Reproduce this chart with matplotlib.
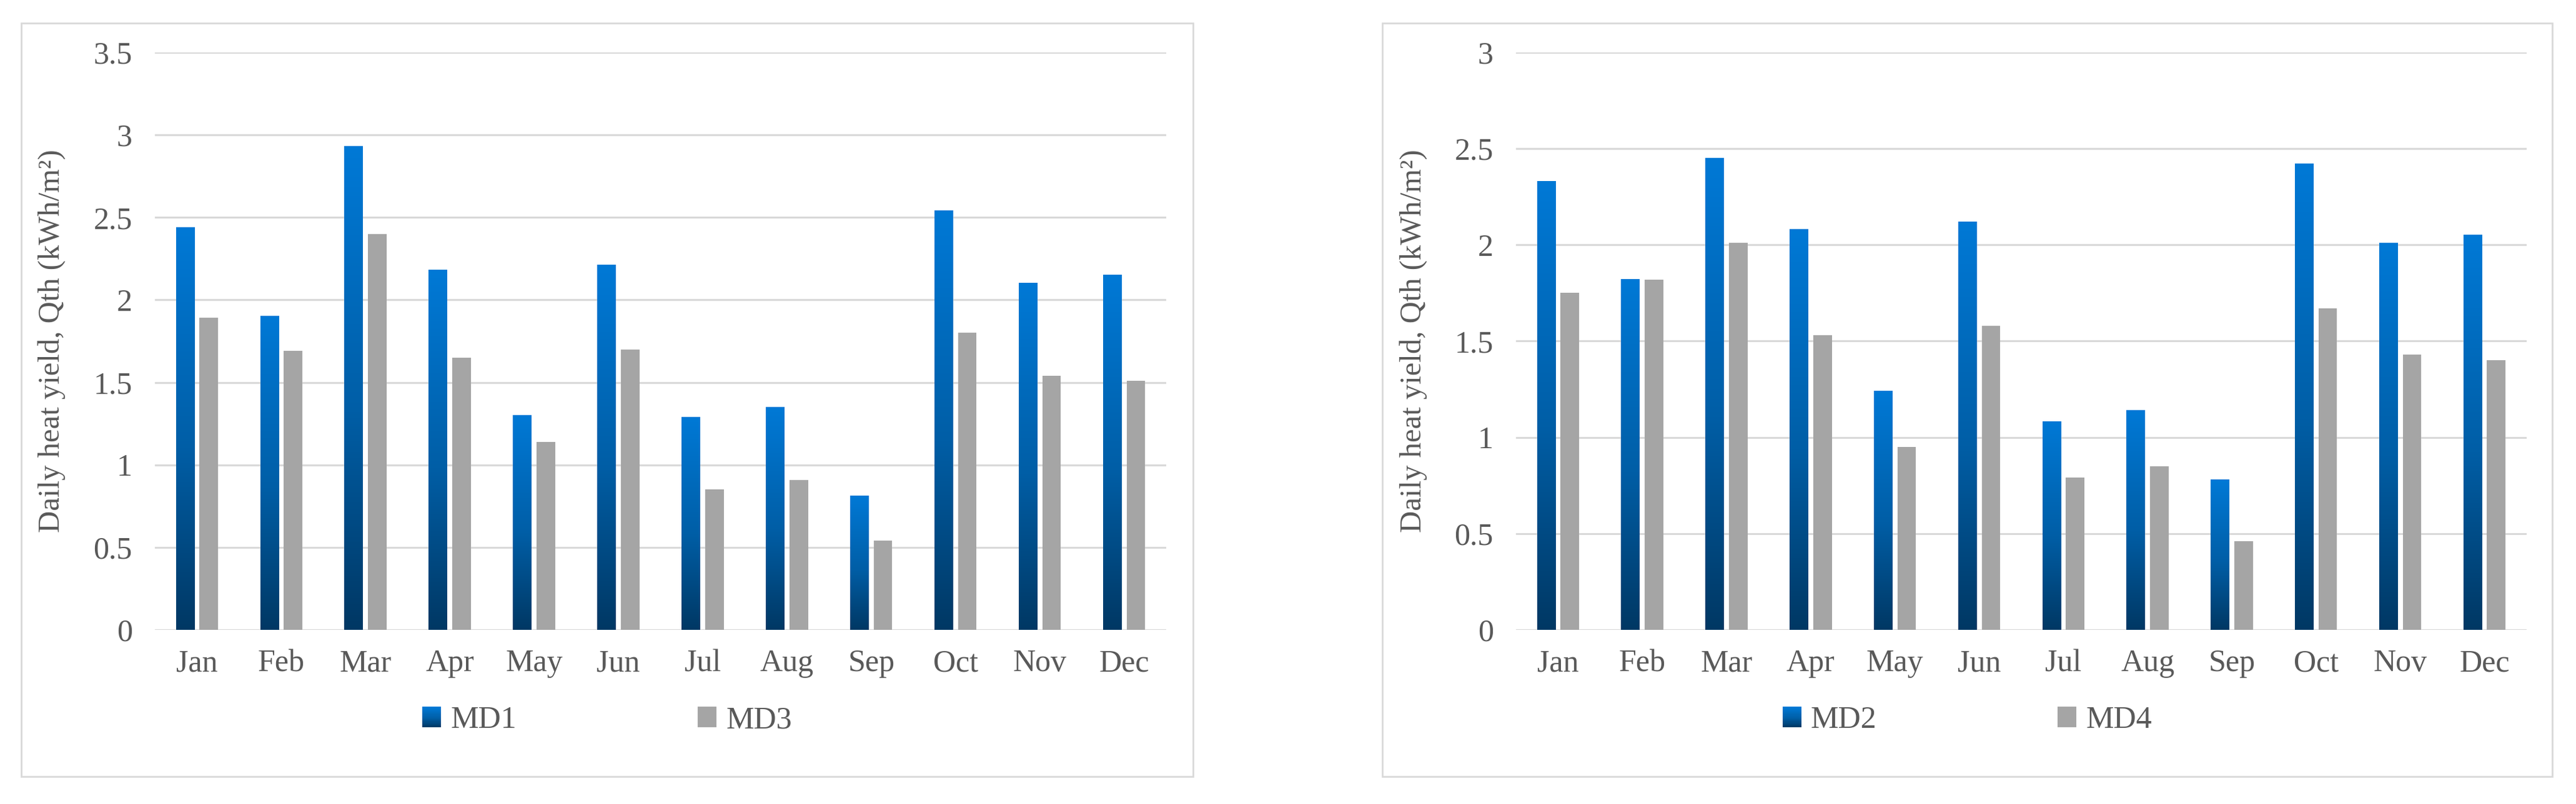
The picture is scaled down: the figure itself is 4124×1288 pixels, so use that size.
import matplotlib
matplotlib.use('Agg')
import matplotlib.pyplot as plt
import numpy as np
from matplotlib.colors import LinearSegmentedColormap
from matplotlib.patches import Rectangle
from matplotlib.legend_handler import HandlerBase

months = ['Jan', 'Feb', 'Mar', 'Apr', 'May', 'Jun', 'Jul', 'Aug', 'Sep', 'Oct', 'Nov', 'Dec']
md1 = [2.44, 1.90, 2.93, 2.18, 1.30, 2.21, 1.29, 1.35, 0.81, 2.54, 2.10, 2.15]
md3 = [1.89, 1.69, 2.40, 1.65, 1.14, 1.70, 0.85, 0.91, 0.54, 1.80, 1.54, 1.51]
md2 = [2.33, 1.82, 2.45, 2.08, 1.24, 2.12, 1.08, 1.14, 0.78, 2.42, 2.01, 2.05]
md4 = [1.75, 1.82, 2.01, 1.53, 0.95, 1.58, 0.79, 0.85, 0.46, 1.67, 1.43, 1.40]
ylabel = 'Daily heat yield, Qth (kWh/m\u00b2)'

FAM = ['Liberation Serif', 'DejaVu Serif']
plt.rcParams['font.family'] = FAM
TXT = '#595959'
GRID = '#D9D9D9'
GRAY = '#A5A5A5'
blue_cm = LinearSegmentedColormap.from_list('bl', [(0, '#003864'), (0.45, '#005EA6'), (1, '#0079D6')])

W = 0.22
OFF = 0.14
grad = np.linspace(0, 1, 256).reshape(-1, 1)


def gradient_bars(ax, xs, vals):
    bars = ax.bar(xs, vals, W, color='none', edgecolor='none')
    for b in bars:
        x0, h = b.get_x(), b.get_height()
        ax.imshow(grad, extent=[x0, x0 + b.get_width(), 0, h], origin='lower',
                  aspect='auto', cmap=blue_cm, zorder=3, interpolation='bilinear')


class GradHandler(HandlerBase):
    def create_artists(self, legend, orig, xd, yd, width, height, fontsize, trans):
        n = 30
        arts = []
        for i in range(n):
            c = blue_cm(i / (n - 1))
            r = Rectangle((-xd, -yd + i * height / n), width, height / n + 0.3,
                          facecolor=c, edgecolor='none', transform=trans)
            arts.append(r)
        return arts


def panel(fig, rect, box, s1, s2, n1, n2, ymax, legx):
    fig.patches.append(Rectangle((box[0], box[1]), box[2], box[3], transform=fig.transFigure,
                                 facecolor='white', edgecolor=GRID, lw=2, zorder=-5))
    ax = fig.add_axes(rect)
    ax.set_zorder(2)
    ax.set_facecolor('none')
    x = np.arange(len(months))
    gradient_bars(ax, x - OFF, s1)
    ax.bar(x + OFF, s2, W, color=GRAY, zorder=3)
    ax.set_xlim(-0.5, len(months) - 0.5)
    ax.set_ylim(0, ymax)
    ax.set_yticks(np.arange(0, ymax + 0.01, 0.5))
    ax.set_yticklabels(['%g' % v for v in np.arange(0, ymax + 0.01, 0.5)])
    ax.set_xticks(x)
    ax.set_xticklabels(months)
    ax.grid(axis='y', color=GRID, lw=2.2, zorder=0)
    ax.set_axisbelow(True)
    for s in ax.spines.values():
        s.set_visible(False)
    ax.tick_params(length=0, labelsize=36, labelcolor=TXT)
    ax.tick_params(axis='y', pad=26)
    ax.tick_params(axis='x', pad=22)
    ax.set_ylabel(ylabel, fontsize=35, color=TXT)
    ax.yaxis.set_label_coords(-0.088, 0.5)
    h1 = Rectangle((0, 0), 1, 1)
    h2 = Rectangle((0, 0), 1, 1, facecolor=GRAY)
    leg = fig.legend([h1, h2], [n1, n2], loc='center', bbox_to_anchor=(legx, 0.104), ncol=2,
                     frameon=False, prop={'family': FAM, 'size': 36}, labelcolor=TXT,
                     handlelength=0.6, handleheight=0.64, handletextpad=0.3,
                     columnspacing=5.8, handler_map={h1: GradHandler()})
    leg.set_zorder(3)
    return ax


fig = plt.figure(figsize=(41.24, 12.88), dpi=100)
panel(fig, [0.0601, 0.2166, 0.3926, 0.7182], [0.0082, 0.0342, 0.4549, 0.9371],
      md1, md3, 'MD1', 'MD3', 3.5, 0.2357)
panel(fig, [0.5885, 0.2166, 0.3923, 0.7182], [0.5366, 0.0342, 0.4542, 0.9371],
      md2, md4, 'MD2', 'MD4', 3.0, 0.7637)
fig.savefig('out.png', dpi=100, facecolor='white')
